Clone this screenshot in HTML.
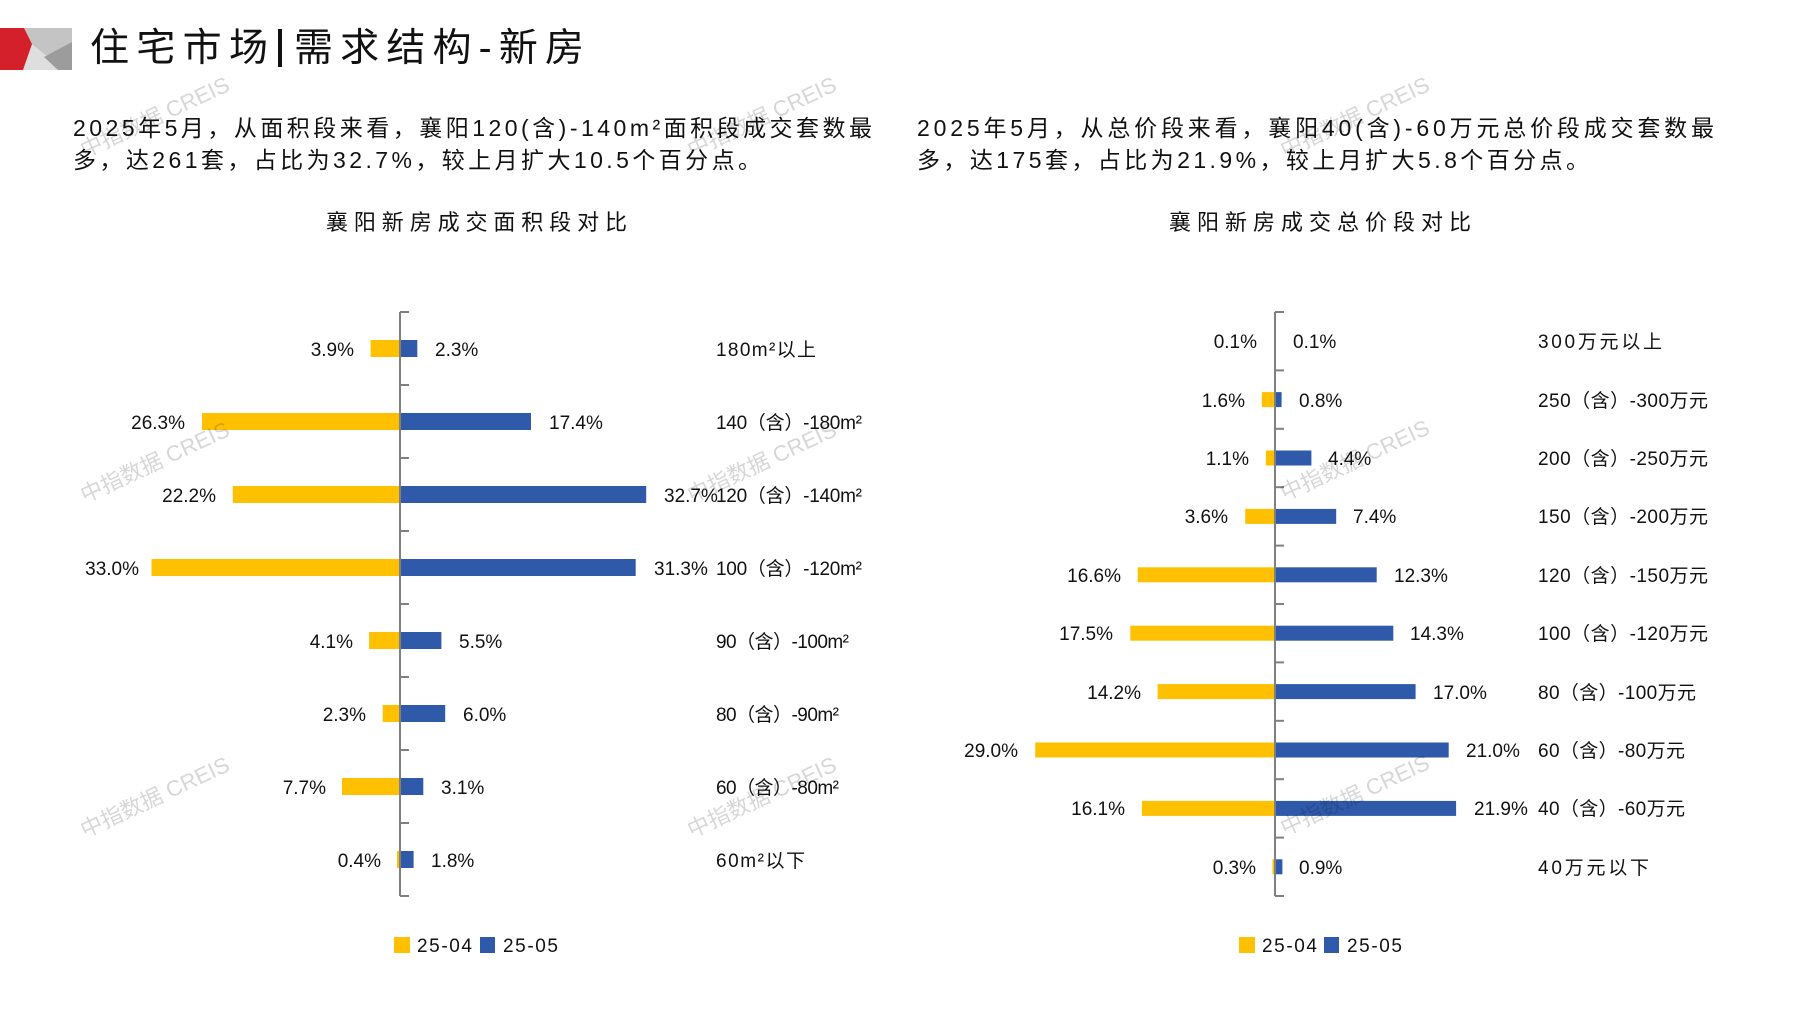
<!DOCTYPE html>
<html>
<head>
<meta charset="utf-8">
<style>
  html,body{margin:0;padding:0;background:#fff;}
  svg{display:block;}
  text{font-family:"Liberation Sans","Noto Sans CJK SC",sans-serif;fill:#111;}
  .cjk{font-family:"Liberation Sans","Noto Sans CJK SC",sans-serif;}
  .wm{font-family:"Liberation Sans","Noto Sans CJK SC",sans-serif;fill:#000;fill-opacity:0.16;font-size:22px;}
  .v{font-size:19px;}
  .c{font-size:19px;}
</style>
</head>
<body>
<svg width="1797" height="1010" viewBox="0 0 1797 1010" xmlns="http://www.w3.org/2000/svg">
  <rect x="0" y="0" width="1797" height="1010" fill="#fff"/>

  <!-- logo -->
  <rect x="0" y="28" width="72" height="42" fill="#c4c4c4"/>
  <polygon points="32,44 23,70 64,70" fill="#dedede"/>
  <polygon points="72,42 44,57 58,70 72,70" fill="#9c9c9c"/>
  <polygon points="0,28 24,28 32,44 23,70 0,70" fill="#d4202a"/>

  <!-- main title -->
  <text x="90" y="61" font-size="39" textLength="178" lengthAdjust="spacing" class="cjk">住宅市场</text>
  <rect x="278" y="29" width="4" height="38" fill="#111"/>
  <text x="294" y="61" font-size="39" textLength="290" lengthAdjust="spacing" class="cjk">需求结构-新房</text>

  <!-- paragraphs -->
  <text x="73" y="136" font-size="23" textLength="799" lengthAdjust="spacing">2025年5月，从面积段来看，襄阳120(含)-140m²面积段成交套数最</text>
  <text x="73" y="168" font-size="23" textLength="688" lengthAdjust="spacing">多，达261套，占比为32.7%，较上月扩大10.5个百分点。</text>
  <text x="917" y="136" font-size="23" textLength="797" lengthAdjust="spacing">2025年5月，从总价段来看，襄阳40(含)-60万元总价段成交套数最</text>
  <text x="917" y="168" font-size="23" textLength="672" lengthAdjust="spacing">多，达175套，占比为21.9%，较上月扩大5.8个百分点。</text>

  <!-- chart titles -->
  <text x="326" y="230" font-size="22" textLength="301" lengthAdjust="spacing">襄阳新房成交面积段对比</text>
  <text x="1169" y="230" font-size="22" textLength="302" lengthAdjust="spacing">襄阳新房成交总价段对比</text>

  <!-- ================= LEFT CHART ================= -->
  <g>
    <rect x="370.6" y="340" width="29.4" height="17" fill="#FFC000"/>
    <rect x="202.0" y="413" width="198.0" height="17" fill="#FFC000"/>
    <rect x="232.8" y="486" width="167.2" height="17" fill="#FFC000"/>
    <rect x="151.5" y="559" width="248.5" height="17" fill="#FFC000"/>
    <rect x="369.1" y="632" width="30.9" height="17" fill="#FFC000"/>
    <rect x="382.7" y="705" width="17.3" height="17" fill="#FFC000"/>
    <rect x="342.0" y="778" width="58.0" height="17" fill="#FFC000"/>
    <rect x="397.0" y="851" width="3.0" height="17" fill="#FFC000"/>
    <rect x="400" y="340" width="17.3" height="17" fill="#2F5AAA"/>
    <rect x="400" y="413" width="131.0" height="17" fill="#2F5AAA"/>
    <rect x="400" y="486" width="246.2" height="17" fill="#2F5AAA"/>
    <rect x="400" y="559" width="235.7" height="17" fill="#2F5AAA"/>
    <rect x="400" y="632" width="41.4" height="17" fill="#2F5AAA"/>
    <rect x="400" y="705" width="45.2" height="17" fill="#2F5AAA"/>
    <rect x="400" y="778" width="23.3" height="17" fill="#2F5AAA"/>
    <rect x="400" y="851" width="13.6" height="17" fill="#2F5AAA"/>
    <line x1="400" y1="312" x2="400" y2="896" stroke="#808080" stroke-width="2"/>
    <g stroke="#808080" stroke-width="2">
      <line x1="400" y1="312" x2="409" y2="312"/>
      <line x1="400" y1="385" x2="409" y2="385"/>
      <line x1="400" y1="458" x2="409" y2="458"/>
      <line x1="400" y1="531" x2="409" y2="531"/>
      <line x1="400" y1="604" x2="409" y2="604"/>
      <line x1="400" y1="677" x2="409" y2="677"/>
      <line x1="400" y1="750" x2="409" y2="750"/>
      <line x1="400" y1="823" x2="409" y2="823"/>
      <line x1="400" y1="896" x2="409" y2="896"/>
    </g>
    <g text-anchor="end">
      <text class="v" x="354" y="356">3.9%</text>
      <text class="v" x="185" y="429">26.3%</text>
      <text class="v" x="216" y="502">22.2%</text>
      <text class="v" x="139" y="575">33.0%</text>
      <text class="v" x="353" y="648">4.1%</text>
      <text class="v" x="366" y="721">2.3%</text>
      <text class="v" x="326" y="794">7.7%</text>
      <text class="v" x="381" y="867">0.4%</text>
    </g>
    <g>
      <text class="v" x="435" y="356">2.3%</text>
      <text class="v" x="549" y="429">17.4%</text>
      <text class="v" x="664" y="502">32.7%</text>
      <text class="v" x="654" y="575">31.3%</text>
      <text class="v" x="459" y="648">5.5%</text>
      <text class="v" x="463" y="721">6.0%</text>
      <text class="v" x="441" y="794">3.1%</text>
      <text class="v" x="431" y="867">1.8%</text>
    </g>
    <text class="c" x="716" y="356" textLength="100" lengthAdjust="spacing">180m²以上</text>
    <text class="c" x="716" y="429" textLength="146" lengthAdjust="spacing">140（含）-180m²</text>
    <text class="c" x="716" y="502" textLength="146" lengthAdjust="spacing">120（含）-140m²</text>
    <text class="c" x="716" y="575" textLength="146" lengthAdjust="spacing">100（含）-120m²</text>
    <text class="c" x="716" y="648" textLength="133" lengthAdjust="spacing">90（含）-100m²</text>
    <text class="c" x="716" y="721" textLength="123" lengthAdjust="spacing">80（含）-90m²</text>
    <text class="c" x="716" y="794" textLength="123" lengthAdjust="spacing">60（含）-80m²</text>
    <text class="c" x="716" y="867" textLength="89" lengthAdjust="spacing">60m²以下</text>
    <rect x="394" y="937" width="16" height="16" fill="#FFC000"/>
    <text x="417" y="952" font-size="19" textLength="55" lengthAdjust="spacing">25-04</text>
    <rect x="480" y="937" width="15" height="16" fill="#2F5AAA"/>
    <text x="503" y="952" font-size="19" textLength="55" lengthAdjust="spacing">25-05</text>
  </g>

  <!-- ================= RIGHT CHART ================= -->
  <g>
    <rect x="1274.2" y="333.7" width="0.8" height="15" fill="#FFC000"/>
    <rect x="1261.8" y="392.1" width="13.2" height="15" fill="#FFC000"/>
    <rect x="1265.9" y="450.5" width="9.1" height="15" fill="#FFC000"/>
    <rect x="1245.2" y="508.9" width="29.8" height="15" fill="#FFC000"/>
    <rect x="1137.7" y="567.3" width="137.3" height="15" fill="#FFC000"/>
    <rect x="1130.3" y="625.7" width="144.7" height="15" fill="#FFC000"/>
    <rect x="1157.6" y="684.1" width="117.4" height="15" fill="#FFC000"/>
    <rect x="1035.2" y="742.5" width="239.8" height="15" fill="#FFC000"/>
    <rect x="1141.9" y="800.9" width="133.1" height="15" fill="#FFC000"/>
    <rect x="1272.5" y="859.3" width="2.5" height="15" fill="#FFC000"/>
    <rect x="1275" y="333.7" width="0.8" height="15" fill="#2F5AAA"/>
    <rect x="1275" y="392.1" width="6.6" height="15" fill="#2F5AAA"/>
    <rect x="1275" y="450.5" width="36.4" height="15" fill="#2F5AAA"/>
    <rect x="1275" y="508.9" width="61.2" height="15" fill="#2F5AAA"/>
    <rect x="1275" y="567.3" width="101.7" height="15" fill="#2F5AAA"/>
    <rect x="1275" y="625.7" width="118.3" height="15" fill="#2F5AAA"/>
    <rect x="1275" y="684.1" width="140.6" height="15" fill="#2F5AAA"/>
    <rect x="1275" y="742.5" width="173.7" height="15" fill="#2F5AAA"/>
    <rect x="1275" y="800.9" width="181.1" height="15" fill="#2F5AAA"/>
    <rect x="1275" y="859.3" width="7.4" height="15" fill="#2F5AAA"/>
    <line x1="1275" y1="312" x2="1275" y2="896" stroke="#808080" stroke-width="2"/>
    <g stroke="#808080" stroke-width="2">
      <line x1="1275" y1="312" x2="1284" y2="312"/>
      <line x1="1275" y1="370.4" x2="1284" y2="370.4"/>
      <line x1="1275" y1="428.8" x2="1284" y2="428.8"/>
      <line x1="1275" y1="487.2" x2="1284" y2="487.2"/>
      <line x1="1275" y1="545.6" x2="1284" y2="545.6"/>
      <line x1="1275" y1="604" x2="1284" y2="604"/>
      <line x1="1275" y1="662.4" x2="1284" y2="662.4"/>
      <line x1="1275" y1="720.8" x2="1284" y2="720.8"/>
      <line x1="1275" y1="779.2" x2="1284" y2="779.2"/>
      <line x1="1275" y1="837.6" x2="1284" y2="837.6"/>
      <line x1="1275" y1="896" x2="1284" y2="896"/>
    </g>
    <g text-anchor="end">
      <text class="v" x="1257" y="348">0.1%</text>
      <text class="v" x="1245" y="407">1.6%</text>
      <text class="v" x="1249" y="465">1.1%</text>
      <text class="v" x="1228" y="523">3.6%</text>
      <text class="v" x="1121" y="582">16.6%</text>
      <text class="v" x="1113" y="640">17.5%</text>
      <text class="v" x="1141" y="699">14.2%</text>
      <text class="v" x="1018" y="757">29.0%</text>
      <text class="v" x="1125" y="815">16.1%</text>
      <text class="v" x="1256" y="874">0.3%</text>
    </g>
    <g>
      <text class="v" x="1293" y="348">0.1%</text>
      <text class="v" x="1299" y="407">0.8%</text>
      <text class="v" x="1328" y="465">4.4%</text>
      <text class="v" x="1353" y="523">7.4%</text>
      <text class="v" x="1394" y="582">12.3%</text>
      <text class="v" x="1410" y="640">14.3%</text>
      <text class="v" x="1433" y="699">17.0%</text>
      <text class="v" x="1466" y="757">21.0%</text>
      <text class="v" x="1474" y="815">21.9%</text>
      <text class="v" x="1299" y="874">0.9%</text>
    </g>
    <text class="c" x="1538" y="348" textLength="124" lengthAdjust="spacing">300万元以上</text>
    <text class="c" x="1538" y="407" textLength="170" lengthAdjust="spacing">250（含）-300万元</text>
    <text class="c" x="1538" y="465" textLength="170" lengthAdjust="spacing">200（含）-250万元</text>
    <text class="c" x="1538" y="523" textLength="170" lengthAdjust="spacing">150（含）-200万元</text>
    <text class="c" x="1538" y="582" textLength="170" lengthAdjust="spacing">120（含）-150万元</text>
    <text class="c" x="1538" y="640" textLength="170" lengthAdjust="spacing">100（含）-120万元</text>
    <text class="c" x="1538" y="699" textLength="158" lengthAdjust="spacing">80（含）-100万元</text>
    <text class="c" x="1538" y="757" textLength="147" lengthAdjust="spacing">60（含）-80万元</text>
    <text class="c" x="1538" y="815" textLength="147" lengthAdjust="spacing">40（含）-60万元</text>
    <text class="c" x="1538" y="874" textLength="111" lengthAdjust="spacing">40万元以下</text>
    <rect x="1239" y="937" width="16" height="16" fill="#FFC000"/>
    <text x="1262" y="952" font-size="19" textLength="55" lengthAdjust="spacing">25-04</text>
    <rect x="1324" y="937" width="15" height="16" fill="#2F5AAA"/>
    <text x="1347" y="952" font-size="19" textLength="55" lengthAdjust="spacing">25-05</text>
  </g>

  <!-- watermarks -->
  <g>
    <text class="wm" transform="translate(158,124) rotate(-25)" text-anchor="middle">中指数据 CREIS</text>
    <text class="wm" transform="translate(765,124) rotate(-25)" text-anchor="middle">中指数据 CREIS</text>
    <text class="wm" transform="translate(1358,124) rotate(-25)" text-anchor="middle">中指数据 CREIS</text>
    <text class="wm" transform="translate(158,469) rotate(-25)" text-anchor="middle">中指数据 CREIS</text>
    <text class="wm" transform="translate(765,469) rotate(-25)" text-anchor="middle">中指数据 CREIS</text>
    <text class="wm" transform="translate(1358,467) rotate(-25)" text-anchor="middle">中指数据 CREIS</text>
    <text class="wm" transform="translate(158,804) rotate(-25)" text-anchor="middle">中指数据 CREIS</text>
    <text class="wm" transform="translate(765,804) rotate(-25)" text-anchor="middle">中指数据 CREIS</text>
    <text class="wm" transform="translate(1358,802) rotate(-25)" text-anchor="middle">中指数据 CREIS</text>
  </g>
</svg>
</body>
</html>
